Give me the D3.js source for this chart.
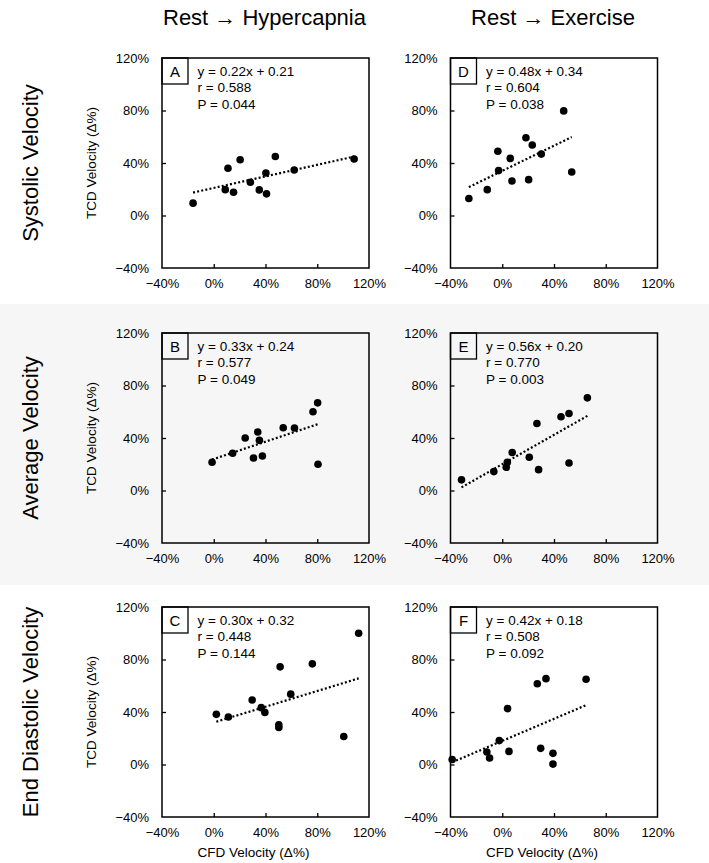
<!DOCTYPE html>
<html>
<head>
<meta charset="utf-8">
<script src="https://cdn.jsdelivr.net/npm/d3@7.9.0/dist/d3.min.js"></script>
<style>
  body { margin: 0; background: #fff; }
  svg { display: block; font-family: "Liberation Sans", Arial, sans-serif; }
</style>
</head>
<body>
<svg id="chart" width="709" height="863"></svg>
<script>
const colTitles = ["Rest \u2192 Hypercapnia", "Rest \u2192 Exercise"];
const rowTitles = ["Systolic Velocity", "Average Velocity", "End Diastolic Velocity"];
const panelLetters = ["A", "D", "B", "E", "C", "F"];
const axisTicks = [-0.4, 0, 0.4, 0.8, 1.2];

// [CFD change, TCD change]
const pointsA = [[-0.16, 0.094], [0.089, 0.197], [0.11, 0.36], [0.153, 0.177], [0.204, 0.425], [0.283, 0.253],
  [0.352, 0.195], [0.403, 0.324], [0.408, 0.165], [0.476, 0.45], [0.622, 0.347], [1.085, 0.43]];
const pointsD = [[-0.258, 0.129], [-0.116, 0.197], [-0.034, 0.489], [-0.028, 0.342], [0.062, 0.435], [0.075, 0.263],
  [0.183, 0.592], [0.204, 0.273], [0.232, 0.537], [0.302, 0.468], [0.475, 0.797], [0.537, 0.332]];
const pointsB = [[-0.013, 0.215], [0.146, 0.284], [0.243, 0.40], [0.307, 0.248], [0.34, 0.446], [0.353, 0.382],
  [0.376, 0.263], [0.537, 0.478], [0.624, 0.476], [0.767, 0.60], [0.803, 0.668], [0.806, 0.20]];
const pointsE = [[-0.315, 0.081], [-0.065, 0.144], [0.031, 0.177], [0.039, 0.215], [0.077, 0.289], [0.209, 0.253],
  [0.268, 0.511], [0.281, 0.159], [0.454, 0.562], [0.516, 0.587], [0.516, 0.21], [0.658, 0.706]];
const pointsC = [[0.02, 0.382], [0.113, 0.362], [0.297, 0.492], [0.367, 0.433], [0.395, 0.397], [0.513, 0.744],
  [0.503, 0.303], [0.503, 0.282], [0.595, 0.536], [0.762, 0.767], [1.005, 0.213], [1.12, 1.0]];
const pointsF = [[-0.387, 0.038], [-0.119, 0.095], [-0.098, 0.049], [-0.023, 0.182], [0.041, 0.426], [0.052, 0.10],
  [0.271, 0.615], [0.297, 0.123], [0.338, 0.654], [0.392, 0.085], [0.392, 0.003], [0.648, 0.649]];

const slopes = [0.22, 0.48, 0.33, 0.56, 0.30, 0.42];
const intercepts = [0.21, 0.34, 0.24, 0.20, 0.32, 0.18];
const rValues = ["0.588", "0.604", "0.577", "0.770", "0.448", "0.508"];
const pValues = ["0.044", "0.038", "0.049", "0.003", "0.144", "0.092"];

const panelPoints = [pointsA, pointsD, pointsB, pointsE, pointsC, pointsF];

const svg = d3.select("#chart");
const colLeft = [162, 450.5];
const rowTop = [58, 333, 607];
const plotW = 207;
const plotH = 210;
const pct = d3.format(".0%");

// grey band behind the middle row
svg.append("rect")
  .attr("x", 0).attr("y", 304).attr("width", 709).attr("height", 281)
  .attr("fill", "#f6f6f6");

colTitles.forEach((t, c) => {
  svg.append("text")
    .attr("x", colLeft[c] + plotW / 2 - 1)
    .attr("y", 25)
    .attr("text-anchor", "middle")
    .attr("font-size", 22)
    .text(t);
});

rowTitles.forEach((t, r) => {
  svg.append("text")
    .attr("transform", `translate(38,${rowTop[r] + plotH / 2}) rotate(-90)`)
    .attr("text-anchor", "middle")
    .attr("font-size", 22)
    .text(t);
});

panelPoints.forEach((points, i) => {
  const row = Math.floor(i / 2);
  const col = i % 2;
  const left = colLeft[col];
  const top = rowTop[row];

  const x = d3.scaleLinear().domain([-0.4, 1.2]).range([left, left + plotW]);
  const y = d3.scaleLinear().domain([-0.4, 1.2]).range([top + plotH, top]);

  const g = svg.append("g");

  const yAxis = d3.axisLeft(y).tickValues(axisTicks).tickFormat(pct)
    .tickSizeInner(-4).tickSizeOuter(0).tickPadding(13);
  const xAxis = d3.axisBottom(x).tickValues(axisTicks).tickFormat(pct)
    .tickSizeInner(-4).tickSizeOuter(0).tickPadding(11);

  const ya = g.append("g").attr("transform", `translate(${left},0)`).call(yAxis);
  const xa = g.append("g").attr("transform", `translate(0,${top + plotH})`).call(xAxis);
  [ya, xa].forEach((a) => {
    a.select(".domain").remove();
    a.selectAll("text").attr("font-size", 13).attr("font-family", "Liberation Sans, Arial, sans-serif").attr("fill", "#000");
    a.selectAll("line").attr("stroke", "#000").attr("stroke-width", 1.3);
  });
  ya.selectAll(".tick").filter((d) => d === -0.4 || d === 1.2).select("line").remove();
  xa.selectAll(".tick").filter((d) => d === -0.4 || d === 1.2).select("line").remove();

  g.append("rect")
    .attr("x", left).attr("y", top).attr("width", plotW).attr("height", plotH)
    .attr("fill", "none").attr("stroke", "#000").attr("stroke-width", 1.5);

  // letter box
  g.append("rect")
    .attr("x", left).attr("y", top).attr("width", 26).attr("height", 26)
    .attr("fill", "none").attr("stroke", "#000").attr("stroke-width", 1.3);
  g.append("text")
    .attr("x", left + 13).attr("y", top + 18.5)
    .attr("text-anchor", "middle").attr("font-size", 15)
    .text(panelLetters[i]);

  const lines = [
    `y = ${slopes[i].toFixed(2)}x + ${intercepts[i].toFixed(2)}`,
    `r = ${rValues[i]}`,
    `P = ${pValues[i]}`,
  ];
  lines.forEach((l, k) => {
    g.append("text")
      .attr("x", left + 35.5).attr("y", top + 18 + k * 16.3)
      .attr("font-size", 13.5)
      .text(l);
  });

  // trend line over the range of the data
  const ext = d3.extent(points, (d) => d[0]);
  g.append("line")
    .attr("x1", x(ext[0])).attr("y1", y(slopes[i] * ext[0] + intercepts[i]))
    .attr("x2", x(ext[1])).attr("y2", y(slopes[i] * ext[1] + intercepts[i]))
    .attr("stroke", "#000").attr("stroke-width", 2.2).attr("stroke-dasharray", "2 2.2");

  g.selectAll("circle").data(points).join("circle")
    .attr("cx", (d) => x(d[0]))
    .attr("cy", (d) => y(d[1]))
    .attr("r", 3.8)
    .attr("fill", "#000");

  if (col === 0) {
    g.append("text")
      .attr("transform", `translate(96,${top + plotH / 2}) rotate(-90)`)
      .attr("text-anchor", "middle")
      .attr("font-size", 13.5)
      .text("TCD Velocity (\u0394%)");
  }
  if (row === 2) {
    g.append("text")
      .attr("x", left + 91.5).attr("y", 857)
      .attr("text-anchor", "middle")
      .attr("font-size", 13.5)
      .text("CFD Velocity (\u0394%)");
  }
});
</script>
</body>
</html>
